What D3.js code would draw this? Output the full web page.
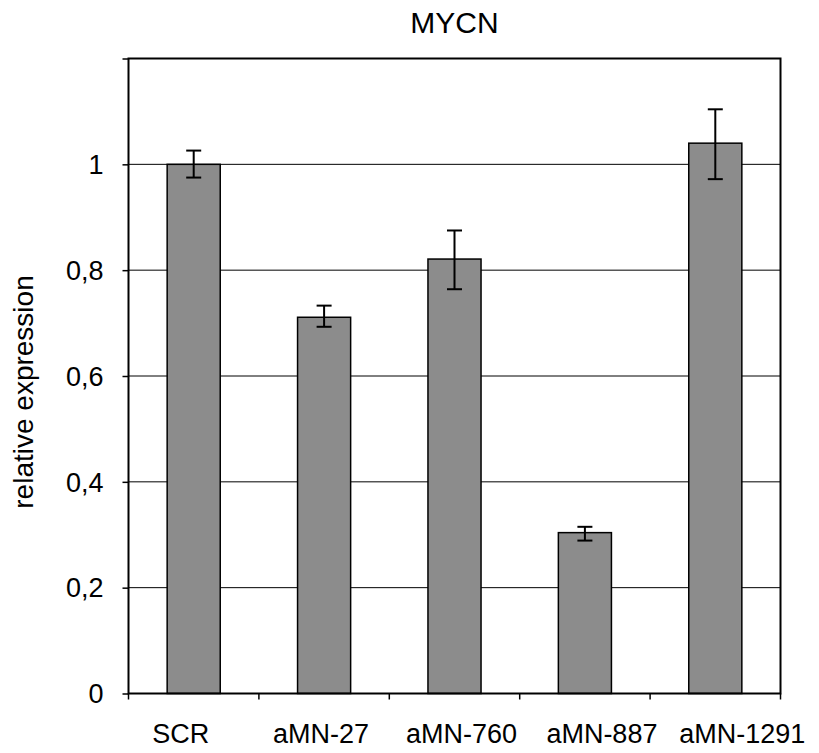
<!DOCTYPE html>
<html lang="en">
<head>
  <meta charset="utf-8">
  <script src="https://d3js.org/d3.v7.min.js"></script>
  <style>
    body { margin: 0; background: #fff; }
    text { font-family: "Liberation Sans", Arial, sans-serif; fill: #000; }
  </style>
</head>
<body>
<script>
  // data
  const categories = ["SCR", "aMN-27", "aMN-760", "aMN-887", "aMN-1291"];
  const values = [1.0, 0.711, 0.821, 0.304, 1.040];
  const errLow = [0.975, 0.693, 0.764, 0.289, 0.972];
  const errHigh = [1.026, 0.733, 0.875, 0.315, 1.104];
  const yTicks = [0, 0.2, 0.4, 0.6, 0.8, 1, 1.2];
  const yLabels = [0, 0.2, 0.4, 0.6, 0.8, 1];

  const data = categories.map((c, i) => ({cat: c, v: values[i], lo: errLow[i], hi: errHigh[i]}));

  const W = 819, H = 753;
  const margin = {top: 58.5, right: 38.5, bottom: 59.5, left: 128.5};
  const width = W - margin.left - margin.right;
  const height = H - margin.top - margin.bottom;

  const svg = d3.select("body").append("svg")
    .attr("width", W).attr("height", H);

  const g = svg.append("g")
    .attr("transform", "translate(" + margin.left + "," + margin.top + ")");

  const x = d3.scaleBand().domain(categories).range([0, width])
    .paddingInner(0.593).paddingOuter(0.2965);
  const xBand = d3.scaleBand().domain(categories).range([0, width]);
  const y = d3.scaleLinear().domain([0, 1.2]).range([height, 0]);

  // gridlines
  g.selectAll(".grid").data(yTicks.filter(d => d > 0 && d < 1.2))
    .enter().append("line")
    .attr("x1", 0).attr("x2", width)
    .attr("y1", d => y(d)).attr("y2", d => y(d))
    .attr("stroke", "#000").attr("stroke-width", 1);

  // bars
  g.selectAll(".bar").data(data).enter().append("rect")
    .attr("x", d => x(d.cat))
    .attr("y", d => y(d.v))
    .attr("width", x.bandwidth())
    .attr("height", d => height - y(d.v))
    .attr("fill", "#8c8c8c")
    .attr("stroke", "#000")
    .attr("stroke-width", 1.5);

  // error bars
  const cx = d => x(d.cat) + x.bandwidth() / 2;
  const eb = g.selectAll(".err").data(data).enter().append("g")
    .attr("stroke", "#000").attr("stroke-width", 2);
  eb.append("line").attr("x1", cx).attr("x2", cx)
    .attr("y1", d => y(d.lo)).attr("y2", d => y(d.hi));
  eb.append("line").attr("x1", d => cx(d) - 7.5).attr("x2", d => cx(d) + 7.5)
    .attr("y1", d => y(d.hi)).attr("y2", d => y(d.hi));
  eb.append("line").attr("x1", d => cx(d) - 7.5).attr("x2", d => cx(d) + 7.5)
    .attr("y1", d => y(d.lo)).attr("y2", d => y(d.lo));

  // plot frame
  g.append("rect").attr("x", 0).attr("y", 0)
    .attr("width", width).attr("height", height)
    .attr("fill", "none").attr("stroke", "#000").attr("stroke-width", 2);

  // y axis
  const yAxis = g.append("g")
    .call(d3.axisLeft(y).tickValues(yTicks).tickSize(6).tickFormat(""));
  yAxis.select(".domain").remove();
  yAxis.selectAll(".tick line").attr("stroke-width", 1.5);

  g.selectAll(".ylab").data(yLabels).enter().append("text")
    .attr("x", -25).attr("y", d => y(d)).attr("dy", "0.36em")
    .attr("text-anchor", "end").style("font-size", "27px")
    .text(d => String(d).replace(".", ","));

  // x axis ticks at category boundaries
  const bounds = categories.map(c => xBand(c)).concat([width]);
  g.selectAll(".xt").data(bounds).enter().append("line")
    .attr("x1", d => d).attr("x2", d => d)
    .attr("y1", height).attr("y2", height + 6)
    .attr("stroke", "#000").attr("stroke-width", 1.5);

  // category labels
  const labelX = d3.scalePoint().domain(categories)
    .range([xBand(categories[0]) + xBand.bandwidth() / 2 - 13,
            xBand(categories[4]) + xBand.bandwidth() / 2 + 27]);
  g.selectAll(".xlab").data(categories).enter().append("text")
    .attr("x", d => labelX(d)).attr("y", height + 49)
    .attr("text-anchor", "middle").style("font-size", "27px")
    .text(d => d);

  // title
  svg.append("text")
    .attr("x", margin.left + width / 2).attr("y", 33)
    .attr("text-anchor", "middle").style("font-size", "30px")
    .text("MYCN");

  // y axis label
  svg.append("text")
    .attr("transform", "translate(33," + 392 + ") rotate(-90)")
    .attr("text-anchor", "middle").style("font-size", "28px")
    .text("relative expression");
</script>
</body>
</html>
